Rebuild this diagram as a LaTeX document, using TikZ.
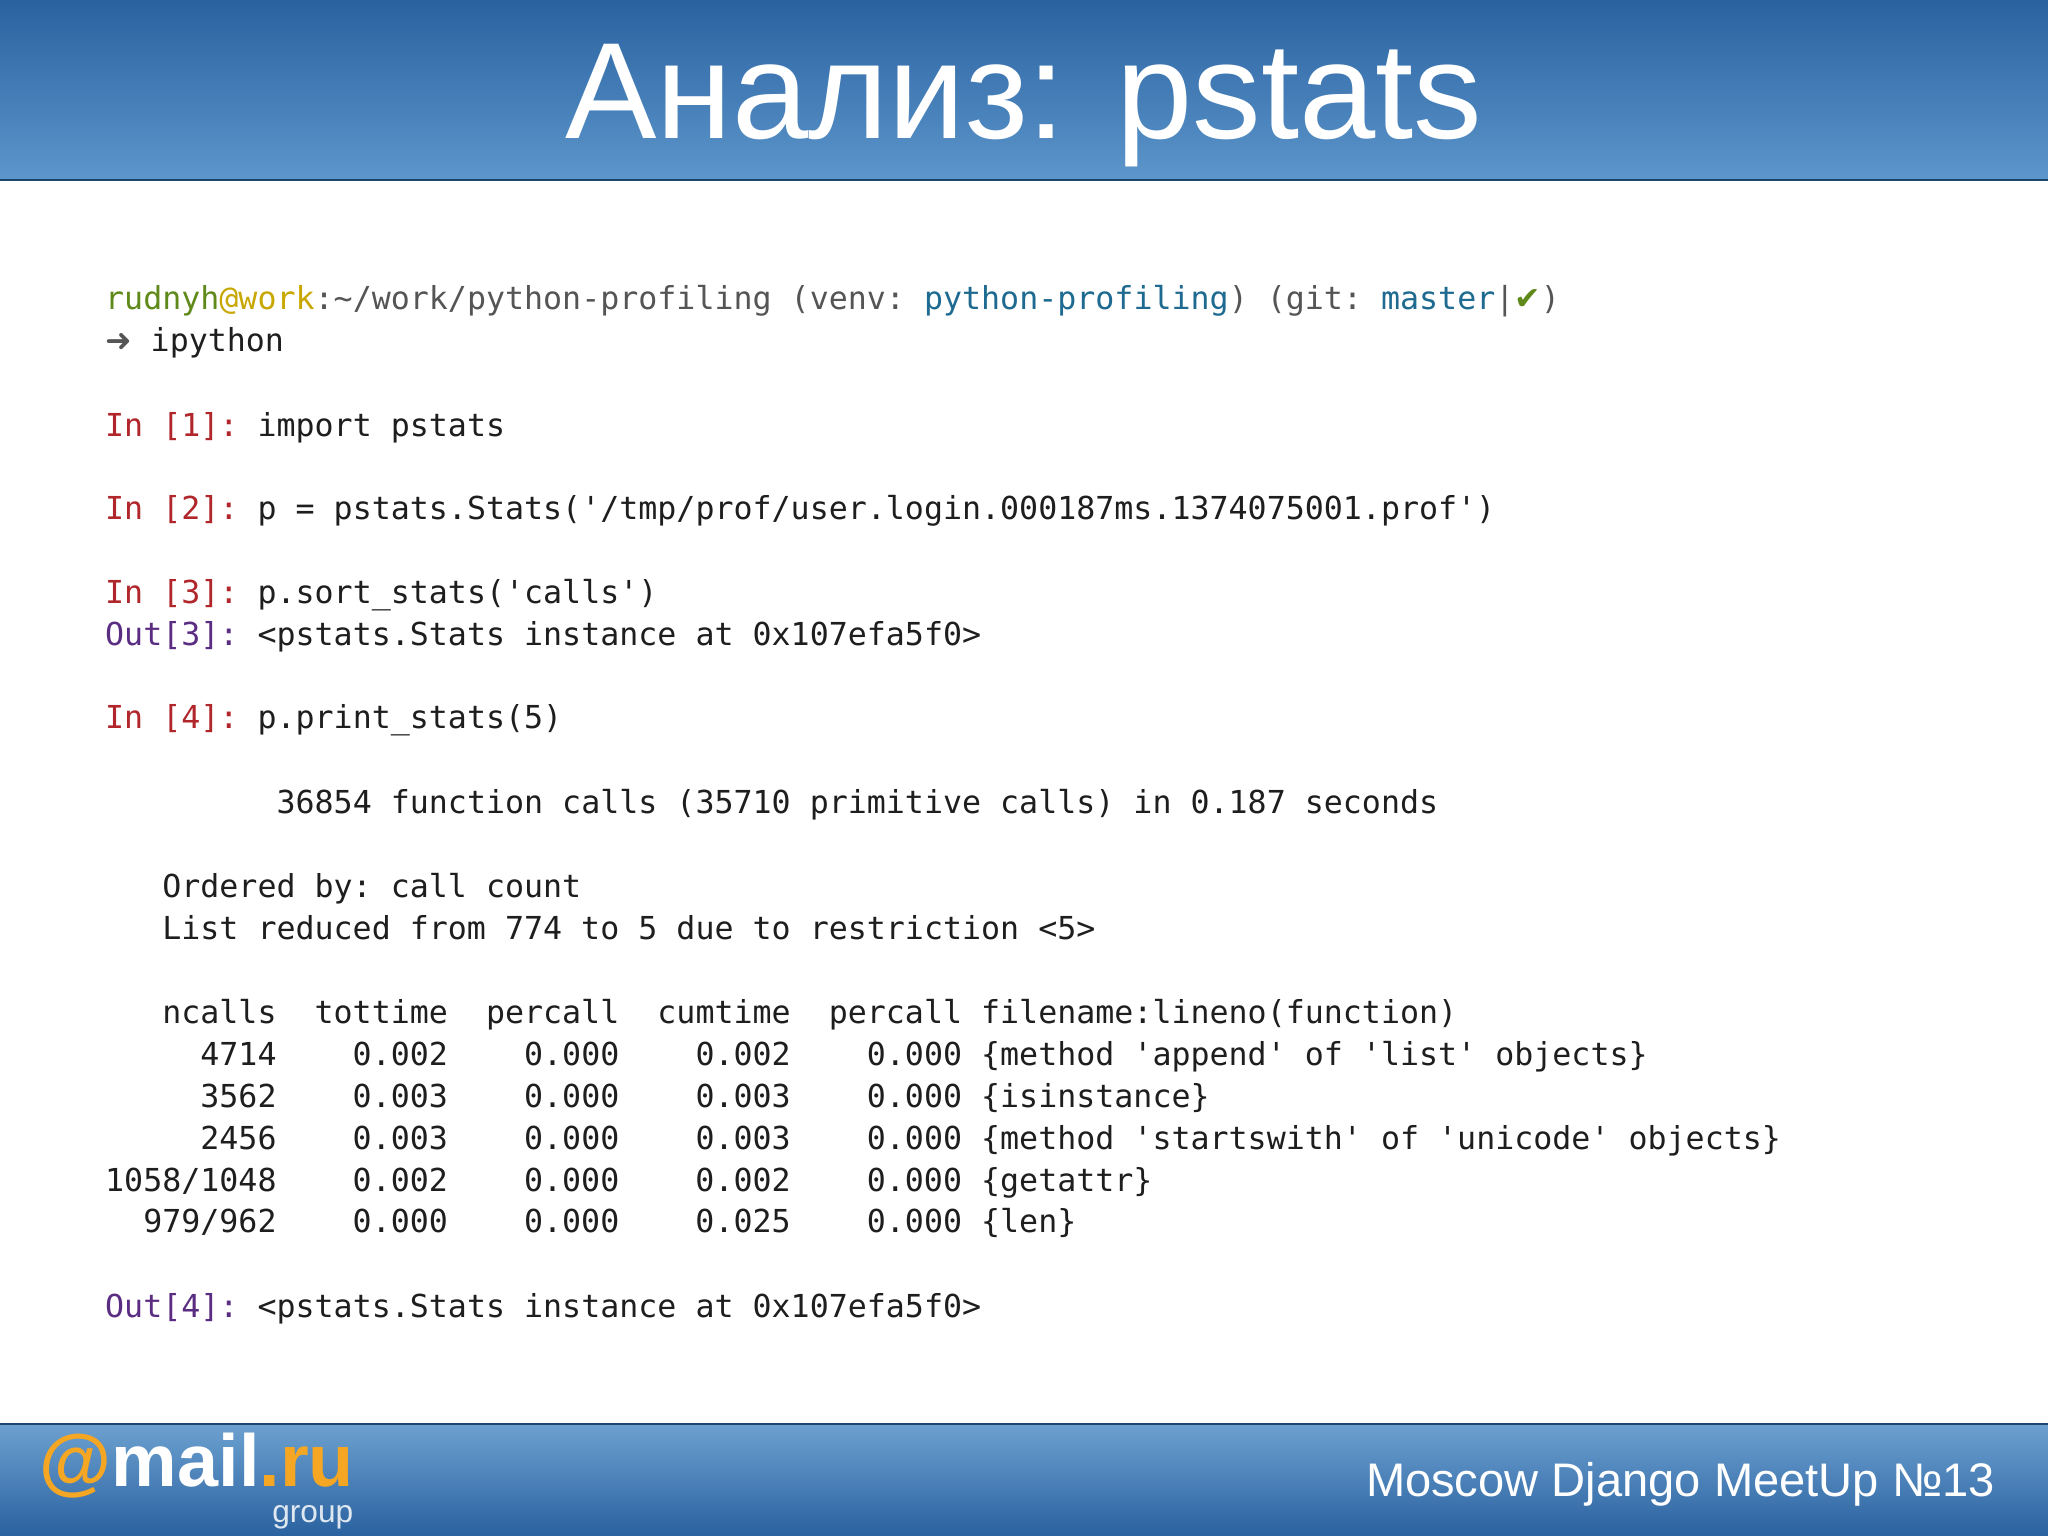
\documentclass[tikz,border=0pt]{standalone}
\usepackage{fontspec}
\setmainfont{Liberation Sans}
\newfontfamily\mono{DejaVu Sans Mono}
\newfontfamily\sym{DejaVu Sans}
\definecolor{hdtop}{HTML}{2A62A0}
\definecolor{hdbot}{HTML}{5C96CB}
\definecolor{ugreen}{HTML}{5F8A1A}
\definecolor{uyel}{HTML}{C8A800}
\definecolor{ublue}{HTML}{1E6A90}
\definecolor{ugrey}{HTML}{555555}
\definecolor{inred}{HTML}{B0262A}
\definecolor{outpur}{HTML}{5B2D82}
\definecolor{txt}{HTML}{1E1E1E}
\definecolor{logoor}{HTML}{F5A623}
\tikzset{codeline/.style={anchor=base west,inner sep=0pt,font=\mono\fontsize{9pt}{10pt}\selectfont,text=txt}}
\newcommand\tl{\textasciitilde}
\begin{document}
\begin{tikzpicture}[x=0.013061cm,y=-0.013061cm]
\useasboundingbox (0,0) rectangle (1568,1176);
\fill[white] (0,0) rectangle (1568,1176);
\shade[top color=hdtop,bottom color=hdbot] (0,0) rectangle (1568,138);
\draw[hdtop!70!black,line width=0.6pt] (0,138) -- (1568,138);
\node[text=white,font=\fontsize{39pt}{42pt}\selectfont,anchor=base] (title) at (784,106) {Анализ: pstats};
\shade[top color=hdbot!90!white,bottom color=hdtop] (0,1090) rectangle (1568,1176);
\draw[hdtop!70!black,line width=0.6pt] (0,1090) -- (1568,1090);
\node[text=white,font=\fontsize{13.4pt}{15pt}\selectfont,anchor=base east,inner sep=0pt] (meet) at (1528,1146) {Moscow Django MeetUp №13};
\node[font=\bfseries\fontsize{21pt}{22pt}\selectfont,anchor=base west,inner sep=0pt] (logo) at (30,1138) {\textcolor{logoor}{@}\textcolor{white}{mail}\textcolor{logoor}{.ru}};
\node[font=\fontsize{9pt}{10pt}\selectfont,text=white!85!hdtop,anchor=base east,inner sep=0pt] (grp) at (271,1166) {group};
% code
\node[codeline] (l1) at (80,237) {\textcolor{ugreen}{rudnyh}\textcolor{uyel}{@work}\textcolor{ugrey}{:\tl/work/python-profiling~(venv:~}\textcolor{ublue}{python-profiling}\textcolor{ugrey}{)~(git:~}\textcolor{ublue}{master}\textcolor{ugrey}{|}\textcolor{ugreen}{\sym ✔}\textcolor{ugrey}{)}};
\node[codeline] (l2) at (80,269) {\textcolor{ugrey}{\sym ➜}~ipython};
\node[codeline] (l3) at (80,334) {\textcolor{inred}{In~[1]:}~import~pstats};
\node[codeline] (l4) at (80,398) {\textcolor{inred}{In~[2]:}~p~=~pstats.Stats('/tmp/prof/user.login.000187ms.1374075001.prof')};
\node[codeline] (l5) at (80,462) {\textcolor{inred}{In~[3]:}~p.sort\_stats('calls')};
\node[codeline] (l6) at (80,494) {\textcolor{outpur}{Out[3]:}~<pstats.Stats~instance~at~0x107efa5f0>};
\node[codeline] (l7) at (80,558) {\textcolor{inred}{In~[4]:}~p.print\_stats(5)};
\node[codeline] (l8) at (80,623) {~~~~~~~~~36854~function~calls~(35710~primitive~calls)~in~0.187~seconds};
\node[codeline] (l9) at (80,687) {~~~Ordered~by:~call~count};
\node[codeline] (l10) at (80,719) {~~~List~reduced~from~774~to~5~due~to~restriction~<5>};
\node[codeline] (l11) at (80,784) {~~~ncalls~~tottime~~percall~~cumtime~~percall~filename:lineno(function)};
\node[codeline] (l12) at (80,816) {~~~~~4714~~~~0.002~~~~0.000~~~~0.002~~~~0.000~\{method~'append'~of~'list'~objects\}};
\node[codeline] (l13) at (80,848) {~~~~~3562~~~~0.003~~~~0.000~~~~0.003~~~~0.000~\{isinstance\}};
\node[codeline] (l14) at (80,880) {~~~~~2456~~~~0.003~~~~0.000~~~~0.003~~~~0.000~\{method~'startswith'~of~'unicode'~objects\}};
\node[codeline] (l15) at (80,912) {1058/1048~~~~0.002~~~~0.000~~~~0.002~~~~0.000~\{getattr\}};
\node[codeline] (l16) at (80,944) {~~979/962~~~~0.000~~~~0.000~~~~0.025~~~~0.000~\{len\}};
\node[codeline] (l17) at (80,1009) {\textcolor{outpur}{Out[4]:}~<pstats.Stats~instance~at~0x107efa5f0>};
\end{tikzpicture}
\end{document}
